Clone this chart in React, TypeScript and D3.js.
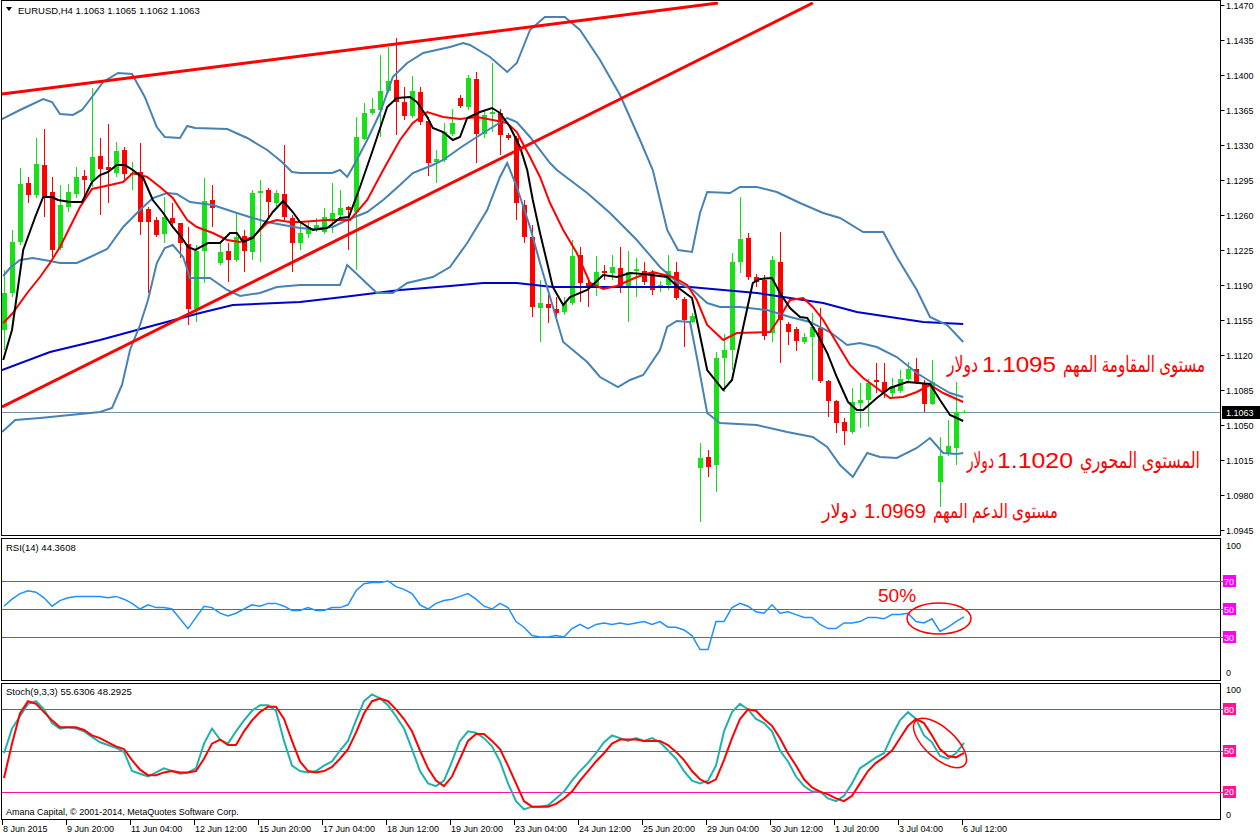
import React from 'react';
import * as d3 from 'd3';

// ---------- Price candles (H4 bars, index 0 = 8 Jun 2015 12:00, 120 = 6 Jul 12:00) ----------
const opens = [1.1145,1.1182,1.1233,1.1292,1.1280,1.1310,1.1283,1.1227,1.1268,1.1281,1.1299,1.1294,1.1319,1.1308,1.1302,1.1325,1.1300,1.1303,1.1266,1.1255,1.1241,1.1257,1.1252,1.1231,1.1166,1.1224,1.1275,1.1212,1.1224,1.1215,1.1239,1.1223,1.1282,1.1285,1.1272,1.1281,1.1257,1.1232,1.1241,1.1247,1.1243,1.1255,1.1260,1.1268,1.1263,1.1336,1.1362,1.1365,1.1384,1.1395,1.1373,1.1359,1.1383,1.1354,1.1313,1.1315,1.1341,1.1377,1.1368,1.1396,1.1341,1.1361,1.1362,1.1340,1.1337,1.1270,1.1238,1.1167,1.1171,1.1166,1.1163,1.1172,1.1220,1.1192,1.1187,1.1204,1.1202,1.1207,1.1187,1.1204,1.1204,1.1203,1.1187,1.1190,1.1203,1.1176,1.1153,1.1007,1.1018,1.1010,1.1117,1.1125,1.1213,1.1237,1.1198,1.1195,1.1142,1.1213,1.1151,1.1146,1.1133,1.1138,1.1147,1.1094,1.1074,1.1053,1.1043,1.1072,1.1075,1.1095,1.1093,1.1082,1.1084,1.1096,1.1106,1.1091,1.1071,1.0993,1.1021,1.1027,1.1063];
const highs = [1.1205,1.1245,1.1307,1.1298,1.1337,1.1346,1.1298,1.1290,1.1291,1.1308,1.1305,1.1387,1.1337,1.1351,1.1333,1.1328,1.1313,1.1332,1.1268,1.1258,1.1278,1.1272,1.1252,1.1248,1.1230,1.1297,1.1290,1.1232,1.1232,1.1262,1.1245,1.1285,1.1295,1.1287,1.1285,1.1330,1.1260,1.1253,1.1253,1.1257,1.1267,1.1292,1.1285,1.1269,1.1358,1.1372,1.1377,1.1420,1.1428,1.1437,1.1388,1.1399,1.1388,1.1358,1.1325,1.1352,1.1366,1.1380,1.1400,1.1403,1.1364,1.1412,1.1366,1.1342,1.1339,1.1275,1.1250,1.1195,1.1180,1.1178,1.1178,1.1235,1.1228,1.1194,1.1219,1.1210,1.1220,1.1228,1.1224,1.1217,1.1213,1.1205,1.1194,1.1220,1.1213,1.1178,1.1162,1.1032,1.1025,1.1123,1.1141,1.1222,1.1278,1.1242,1.1201,1.1200,1.1219,1.1243,1.1153,1.1148,1.1142,1.1162,1.1167,1.1095,1.1075,1.1057,1.1087,1.1092,1.1096,1.1112,1.1112,1.1097,1.1105,1.1113,1.1117,1.1095,1.1115,1.1038,1.1055,1.1093,1.1065];
const lows = [1.1125,1.1178,1.1230,1.1272,1.1277,1.1258,1.1218,1.1225,1.1263,1.1277,1.1275,1.1288,1.1260,1.1272,1.1298,1.1293,1.1285,1.1240,1.1182,1.1238,1.1232,1.1247,1.1217,1.1150,1.1153,1.1192,1.1248,1.1210,1.1193,1.1213,1.1203,1.1215,1.1213,1.1258,1.1267,1.1255,1.1203,1.1225,1.1237,1.1243,1.1241,1.1242,1.1257,1.1225,1.1205,1.1335,1.1360,1.1338,1.1382,1.1340,1.1355,1.1357,1.1350,1.1299,1.1292,1.1313,1.1339,1.1367,1.1365,1.1312,1.1337,1.1343,1.1320,1.1335,1.1255,1.1232,1.1158,1.1133,1.1152,1.1153,1.1160,1.1170,1.1173,1.1168,1.1179,1.1195,1.1195,1.1182,1.1153,1.1178,1.1190,1.1180,1.1183,1.1185,1.1175,1.1128,1.1152,1.0953,1.0998,1.0983,1.1083,1.1105,1.1202,1.1195,1.1188,1.1135,1.1133,1.1112,1.1130,1.1124,1.1131,1.1095,1.1092,1.1058,1.1042,1.1030,1.1041,1.1047,1.1048,1.1082,1.1077,1.1078,1.1082,1.1093,1.1091,1.1063,1.1070,1.0968,1.1019,1.1010,1.1062];
const closes = [1.1182,1.1233,1.1291,1.1280,1.1311,1.1279,1.1225,1.1270,1.1283,1.1298,1.1295,1.1318,1.1306,1.1305,1.1324,1.1301,1.1302,1.1253,1.1253,1.1240,1.1258,1.1252,1.1232,1.1166,1.1224,1.1274,1.1267,1.1223,1.1215,1.1238,1.1224,1.1282,1.1284,1.1273,1.1282,1.1258,1.1232,1.1242,1.1248,1.1250,1.1258,1.1262,1.1267,1.1265,1.1338,1.1362,1.1366,1.1384,1.1394,1.1373,1.1359,1.1384,1.1353,1.1312,1.1316,1.1343,1.1352,1.1369,1.1397,1.1341,1.1360,1.1363,1.1340,1.1337,1.1272,1.1238,1.1168,1.1172,1.1167,1.1162,1.1172,1.1219,1.1192,1.1187,1.1203,1.1202,1.1208,1.1187,1.1203,1.1206,1.1193,1.1185,1.1190,1.1204,1.1177,1.1155,1.1159,1.1017,1.1008,1.1117,1.1125,1.1213,1.1236,1.1198,1.1193,1.1139,1.1215,1.1155,1.1143,1.1134,1.1138,1.1148,1.1094,1.1074,1.1052,1.1044,1.1073,1.1075,1.1092,1.1093,1.1083,1.1089,1.1096,1.1106,1.1093,1.1071,1.1093,1.1019,1.1029,1.1063,1.1063];

// ---------- Indicator lines: [bar, price] ----------
const bbUpper = [[-0.25,1.1356],[2,1.1365],[4.9,1.1376],[6,1.1373],[7,1.1361],[8.6,1.1360],[9.75,1.1365],[11,1.1378],[12.4,1.1393],[14.25,1.1402],[16,1.1401],[17.6,1.1378],[19.1,1.1348],[20.1,1.1338],[22,1.1337],[22.9,1.1349],[23.9,1.1347],[27.9,1.1346],[30.4,1.1337],[32.9,1.1325],[34.75,1.1313],[36,1.1303],[37,1.1302],[41,1.1302],[42,1.1305],[42.9,1.1298],[43.9,1.1312],[45.4,1.1335],[47,1.1362],[48.6,1.1398],[50.4,1.1412],[52.4,1.1422],[55.75,1.1428],[57.4,1.1432],[58.25,1.1430],[60.75,1.1418],[62.9,1.1403],[64.1,1.1412],[65.75,1.1445],[67.6,1.1458],[70.1,1.1458],[72,1.1445],[74.5,1.1415],[77,1.1380],[79.5,1.1335],[81.1,1.1305],[82.9,1.1245],[84.25,1.1225],[86,1.1223],[87,1.1262],[87.9,1.1283],[90.75,1.1282],[92,1.1288],[94.1,1.1288],[96.6,1.1283],[99.5,1.1272],[102.4,1.1262],[104.5,1.1257],[107.4,1.1243],[109.9,1.1243],[111.6,1.1218],[114.1,1.1185],[115.75,1.1158],[117.9,1.1150],[119.9,1.1133]];
const bbMiddle = [[-0.1,1.1199],[0.75,1.1207],[2,1.1215],[3.6,1.1217],[5.75,1.1214],[7,1.1212],[9.1,1.1212],[10.5,1.1217],[12.9,1.1226],[14.9,1.1248],[17,1.1265],[18.6,1.1277],[20.4,1.1282],[21.6,1.1281],[23.25,1.1273],[26.1,1.1270],[29.1,1.1262],[31.1,1.1257],[32.9,1.1253],[34.9,1.1250],[37,1.1247],[38.6,1.1246],[41.1,1.1248],[42.9,1.1255],[45.4,1.1263],[47.4,1.1275],[49.5,1.1290],[51.1,1.1302],[53.6,1.1310],[54.9,1.1315],[57,1.1327],[59.1,1.1338],[61.1,1.1348],[62.9,1.1357],[64.1,1.1353],[65.75,1.1338],[68.25,1.1312],[69.1,1.1305],[72.9,1.1282],[75.75,1.1262],[79.1,1.1235],[82,1.1208],[84.1,1.1193],[86.1,1.1185],[87.9,1.1172],[89.5,1.1168],[92,1.1168],[95.4,1.1165],[98.25,1.1158],[100.75,1.1153],[103.25,1.1143],[105.4,1.1130],[107,1.1132],[109.1,1.1128],[111.6,1.1118],[114.1,1.1102],[116.1,1.1092],[118.25,1.1082],[119.9,1.1078]];
const bbLower = [[-0.25,1.1043],[1.4,1.1055],[4.5,1.1057],[8.25,1.1060],[12,1.1063],[13.5,1.1067],[14.75,1.1090],[15.75,1.1125],[17,1.1150],[18,1.1175],[19.1,1.1212],[20.1,1.1227],[21.1,1.1230],[22.4,1.1218],[23.25,1.1197],[25.75,1.1197],[27.9,1.1185],[29.5,1.1179],[32,1.1182],[34.1,1.1188],[37,1.1190],[42,1.1190],[42.9,1.1210],[44.5,1.1198],[46.6,1.1182],[48.6,1.1182],[50.4,1.1192],[53.6,1.1198],[55.75,1.1208],[57.9,1.1232],[60.4,1.1265],[62,1.1298],[62.9,1.1312],[64.1,1.1288],[65.75,1.1248],[67,1.1212],[68.25,1.1178],[69.9,1.1133],[72.9,1.1113],[74.5,1.1098],[76.75,1.1088],[78.25,1.1095],[79.9,1.1100],[82,1.1125],[82.9,1.1148],[84.1,1.1154],[85.75,1.1153],[86.6,1.1118],[87.9,1.1062],[89.5,1.1052],[94.1,1.1050],[97.9,1.1043],[101.1,1.1038],[102.9,1.1028],[104.5,1.1010],[106.1,1.0998],[107.9,1.1022],[109.5,1.1018],[111.6,1.1017],[114.1,1.1027],[115.75,1.1037],[117.4,1.1022],[119.1,1.1021],[119.9,1.1022]];
const maLong = [[-0.25,1.1105],[5.75,1.1123],[12,1.1135],[16.6,1.1145],[24.5,1.1162],[28.6,1.1170],[37,1.1173],[42.4,1.1178],[49.5,1.1185],[55.75,1.1189],[59.9,1.1192],[64.1,1.1192],[68.6,1.1188],[77,1.1188],[85.75,1.1188],[89.9,1.1185],[94.1,1.1182],[98.25,1.1177],[102.4,1.1172],[106.6,1.1163],[110.75,1.1158],[114.9,1.1153],[119.9,1.1151]];
const maFast = [[-0.1,1.1115],[1,1.1145],[2.4,1.1225],[3.9,1.1258],[4.9,1.1278],[6,1.1278],[6.75,1.1275],[8.25,1.1273],[9.75,1.1273],[11,1.1293],[12,1.1300],[13,1.1303],[14.1,1.1310],[15.1,1.1310],[16.1,1.1305],[17.4,1.1297],[18.6,1.1275],[19.9,1.1262],[21.1,1.1248],[22.25,1.1237],[23,1.1228],[23.9,1.1225],[25.5,1.1232],[27,1.1232],[28.25,1.1242],[29.1,1.1242],[29.9,1.1233],[31.1,1.1237],[32.9,1.1255],[33.6,1.1263],[34.9,1.1274],[36.1,1.1263],[37,1.1253],[38.6,1.1245],[40.4,1.1247],[42,1.1257],[43.1,1.1258],[44.5,1.1288],[46.1,1.1325],[47.9,1.1368],[49.1,1.1377],[50.75,1.1378],[51.6,1.1373],[52.9,1.1358],[53.6,1.1347],[54.9,1.1343],[56.1,1.1335],[57,1.1338],[57.9,1.1357],[59.5,1.1363],[61,1.1367],[62,1.1362],[63.25,1.1348],[64.5,1.1328],[65.4,1.1305],[66.1,1.1275],[67,1.1242],[67.9,1.1212],[68.6,1.1188],[69.9,1.1170],[70.75,1.1178],[72.9,1.1185],[74.9,1.1200],[76.6,1.1198],[78.25,1.1202],[79.9,1.1201],[82.9,1.1198],[84.5,1.1186],[86,1.1177],[86.6,1.1155],[87.9,1.1105],[89.9,1.1085],[91,1.1095],[92.4,1.1148],[93.6,1.1192],[94.5,1.1196],[96,1.1197],[97,1.1182],[98.25,1.1167],[99.5,1.1158],[100.4,1.1157],[101.6,1.1142],[102.9,1.1122],[104.1,1.1098],[105.5,1.1073],[106.6,1.1065],[107.4,1.1065],[109.1,1.1077],[110.75,1.1087],[112.9,1.1093],[115.75,1.1091],[117,1.1075],[118.25,1.1060],[119.9,1.1054]];
const maMid = [[-0.1,1.1152],[1.1,1.1162],[2.9,1.1182],[4.5,1.1198],[5.75,1.1212],[7,1.1228],[8.25,1.1248],[9.5,1.1268],[11,1.1286],[13.25,1.1290],[14.9,1.1293],[16.1,1.1302],[17.9,1.1298],[19.5,1.1288],[21.1,1.1277],[22.9,1.1255],[24.1,1.1248],[26.1,1.1242],[27.9,1.1235],[29.5,1.1233],[31.1,1.1238],[32.9,1.1252],[34.1,1.1255],[35.75,1.1253],[37,1.1253],[40.4,1.1255],[43.25,1.1255],[45.4,1.1275],[47.4,1.1305],[49.5,1.1335],[51.1,1.1352],[52.9,1.1363],[54.9,1.1358],[57,1.1356],[59.1,1.1358],[61.1,1.1355],[62.9,1.1352],[64.1,1.1343],[65.75,1.1318],[67,1.1298],[68.25,1.1272],[69.9,1.1245],[71.6,1.1222],[73.25,1.1192],[74.9,1.1186],[76.6,1.1189],[79.1,1.1198],[81.1,1.1203],[83.6,1.1198],[85.4,1.1190],[86.6,1.1175],[87.9,1.1150],[89.9,1.1135],[91.6,1.1142],[95.75,1.1143],[97,1.1158],[98.25,1.1175],[99.9,1.1177],[101.1,1.1168],[102.4,1.1155],[104.1,1.1132],[105.75,1.1110],[107.4,1.1097],[109.1,1.1087],[110.75,1.1077],[112.4,1.1078],[114.1,1.1083],[115.75,1.1090],[117.4,1.1082],[119.9,1.1073]];
const trendUpper = [[-0.25,1.1381],[89.25,1.1472]];
const trendLower = [[-0.25,1.1068],[101.1,1.1472]];

// ---------- Oscillators, one value per bar ----------
const rsiValues = [52,57,61,63,62,58,52,56,58,59,59,59,59,58,59,57,54,50,53,51,51,50,43,36,44,52,51,47,45,47,50,53,52,54,54,52,49,49,51,49,49,51,51,53,63,68,69,69,70,66,64,61,53,50,54,56,57,59,61,57,52,50,54,51,41,37,31,30,30,31,30,36,39,36,39,40,39,40,39,40,41,39,41,37,37,35,31,21,21,41,41,51,54,52,48,47,53,47,48,46,44,44,39,36,36,40,40,41,44,44,43,46,46,47,41,40,43,34,37,41,44.36];
const stochMain = [48,66,75,84,86,80,70,66,67,66,64,60,56,54,52,49,35,33,31,34,37,35,33,34,37,55,66,58,55,64,72,79,83,83,79,57,39,35,34,35,39,42,50,57,72,86,91,88,83,75,66,51,35,26,24,28,42,57,64,63,59,53,42,26,13,7,9,9,10,15,20,28,35,41,48,56,61,59,57,59,57,59,56,50,44,35,28,26,28,39,64,78,84,80,73,70,64,50,42,31,24,20,20,15,13,17,26,37,41,45,48,61,72,78,73,61,56,46,44,48,55.63];
const stochSignal = [30,55,77,86,84,78,72,67,67,67,65,61,59,56,53,51,43,36,32,32,34,35,34,34,35,44,55,58,54,54,64,72,78,82,82,73,57,42,35,34,35,38,44,51,63,77,86,88,86,80,73,64,50,37,28,24,31,44,57,62,62,57,51,39,26,13,9,9,9,11,15,20,28,35,42,48,55,58,58,58,57,57,57,54,49,43,35,29,26,29,43,59,73,80,79,73,68,59,48,39,29,23,20,18,15,13,17,26,35,41,45,50,59,68,73,70,61,51,46,45,48.29];

// ---------- Axis labels ----------
const timeTickBars = [0,8,16,24,32,40,48,56,64,72,80,88,96,104,112,120];
const timeTickLabels = ['8 Jun 2015','9 Jun 20:00','11 Jun 04:00','12 Jun 12:00','15 Jun 20:00','17 Jun 04:00','18 Jun 12:00','19 Jun 20:00','23 Jun 04:00','24 Jun 12:00','25 Jun 20:00','29 Jun 04:00','30 Jun 12:00','1 Jul 20:00','3 Jul 04:00','6 Jul 12:00'];
const priceTicks = [1.0945,1.0980,1.1015,1.1050,1.1085,1.1120,1.1155,1.1190,1.1225,1.1260,1.1295,1.1330,1.1365,1.1400,1.1435,1.1470];
const rsiLevels = [70,50,30];
const stochLevels = [80,50,20];
const lastPrice = 1.1063;

// ---------- Annotations (Arabic label, level, currency word) ----------
const noteLabels = ['مستوى المقاومة المهم', 'المستوى المحوري', 'مستوى الدعم المهم'];
const noteValues = ['1.1095', '1.1020', '1.0969'];
const noteCurrency = 'دولار';

// layout of the three annotation lines: [baseline, currency x, currency w, value x, value w, label x, label w, font size]
const noteLayout = [
  [372, 947, 31, 982, 74, 1063, 142, 22],
  [468, 967, 27, 997, 76, 1080, 120, 22],
  [518, 822, 35, 864, 62, 933, 125, 20],
];

const FONT = "'Liberation Sans', Arial, 'DejaVu Sans', sans-serif";
const BULL = '#18e018';
const BEAR = '#ff0000';

export default function App() {
  const x = d3.scaleLinear().domain([0, 120]).range([4, 964]);
  const y = d3.scaleLinear().domain([1.0945, 1.1470]).range([530, 5]);
  const yR = d3.scaleLinear().domain([0, 100]).range([679, 539]);
  const yS = d3.scaleLinear().domain([0, 100]).range([819, 682]);

  const priceLine = d3.line<number[]>().x(d => x(d[0])).y(d => y(d[1]));
  const rsiLine = d3.line<number>().x((_, i) => x(i)).y(d => yR(d));
  const stLine = d3.line<number>().x((_, i) => x(i)).y(d => yS(d));

  const PL = 1.5, PR = 1220.5;

  return (
    <svg width={1260} height={837} style={{ position: 'absolute', left: 0, top: 0, background: '#fff' }} fontFamily={FONT}>
      <defs>
        <clipPath id="mainClip"><rect x={2} y={2} width={1218} height={533} /></clipPath>
        <clipPath id="rsiClip"><rect x={2} y={539} width={1218} height={141} /></clipPath>
        <clipPath id="stClip"><rect x={2} y={684} width={1218} height={135} /></clipPath>
      </defs>
      <rect x={0} y={0} width={1260} height={837} fill="#fff" />

      {/* ---------- main panel ---------- */}
      <g clipPath="url(#mainClip)">
        <line x1={PL} x2={PR} y1={Math.round(y(lastPrice)) + 0.5} y2={Math.round(y(lastPrice)) + 0.5} stroke="#7890a0" strokeWidth={1} />
        {opens.map((o, i) => {
          const c = closes[i];
          const cx = Math.round(x(i));
          const col = c >= o ? BULL : BEAR;
          const top = Math.round(y(Math.max(o, c)));
          const bot = Math.round(y(Math.min(o, c)));
          return (
            <g key={i} shapeRendering="crispEdges">
              <line x1={cx + 0.5} x2={cx + 0.5} y1={Math.round(y(highs[i]))} y2={Math.round(y(lows[i]))} stroke={col} strokeWidth={1} />
              <rect x={cx - 2} y={top} width={5} height={Math.max(1, bot - top)} fill={col} />
            </g>
          );
        })}
        <path d={priceLine(maLong) || ''} fill="none" stroke="#0000cd" strokeWidth={2} />
        <path d={priceLine(bbUpper) || ''} fill="none" stroke="#4682b4" strokeWidth={2} />
        <path d={priceLine(bbMiddle) || ''} fill="none" stroke="#4682b4" strokeWidth={2} />
        <path d={priceLine(bbLower) || ''} fill="none" stroke="#4682b4" strokeWidth={2} />
        <path d={priceLine(maMid) || ''} fill="none" stroke="#ff0000" strokeWidth={2} />
        <path d={priceLine(maFast) || ''} fill="none" stroke="#000000" strokeWidth={2} />
        <path d={priceLine(trendUpper) || ''} fill="none" stroke="#ff0000" strokeWidth={3} />
        <path d={priceLine(trendLower) || ''} fill="none" stroke="#ff0000" strokeWidth={3} />
      </g>
      <rect x={PL} y={0.5} width={PR - PL} height={535} fill="none" stroke="#000" />
      <path d="M6,7 L12,7 L9,11 Z" fill="#000" />
      <text x={18} y={14} fontSize={9.5} fill="#000">EURUSD,H4  1.1063 1.1065 1.1062 1.1063</text>

      {/* price axis */}
      {priceTicks.map(p => (
        <g key={p}>
          <line x1={PR} x2={PR + 4} y1={Math.round(y(p)) + 0.5} y2={Math.round(y(p)) + 0.5} stroke="#000" />
          <text x={1226} y={y(p) + 3.5} fontSize={9} fill="#000">{p.toFixed(4)}</text>
        </g>
      ))}
      <rect x={1222} y={Math.round(y(lastPrice)) - 6} width={38} height={13} fill="#000" />
      <text x={1226} y={y(lastPrice) + 3.5} fontSize={9} fill="#fff">{lastPrice.toFixed(4)}</text>

      {/* annotations */}
      <g fill="#ff0000">
        {noteLayout.map((L, i) => (
          <g key={i} fontSize={L[7]}>
            <text x={L[1]} y={L[0]} textLength={L[2]} lengthAdjust="spacingAndGlyphs">{noteCurrency}</text>
            <text x={L[3]} y={L[0]} textLength={L[4]} lengthAdjust="spacingAndGlyphs">{noteValues[i]}</text>
            <text x={L[5]} y={L[0]} textLength={L[6]} lengthAdjust="spacingAndGlyphs">{noteLabels[i]}</text>
          </g>
        ))}
      </g>

      {/* ---------- RSI panel ---------- */}
      <g clipPath="url(#rsiClip)">
        {rsiLevels.map(l => (
          <line key={l} x1={PL} x2={PR} y1={Math.round(yR(l)) + 0.5} y2={Math.round(yR(l)) + 0.5} stroke="#ff00ff" strokeWidth={1} />
        ))}
        <path d={rsiLine(rsiValues) || ''} fill="none" stroke="#1e90ff" strokeWidth={1.5} />
      </g>
      <rect x={PL} y={538.5} width={PR - PL} height={142} fill="none" stroke="#000" />
      <text x={6} y={551} fontSize={9.5} fill="#000">RSI(14) 44.3608</text>
      <text x={1226} y={549} fontSize={9} fill="#000">100</text>
      <text x={1226} y={676} fontSize={9} fill="#000">0</text>
      {rsiLevels.map(l => (
        <g key={l}>
          <line x1={PR} x2={PR + 3} y1={Math.round(yR(l)) + 0.5} y2={Math.round(yR(l)) + 0.5} stroke="#ff00ff" />
          <rect x={1223} y={Math.round(yR(l)) - 6} width={13} height={12} fill="#ff00ff" />
          <text x={1224} y={yR(l) + 3.5} fontSize={9} fill="#fff">{l}</text>
        </g>
      ))}
      <text x={878} y={602} fontSize={19} fill="#ff0000">50%</text>
      <ellipse cx={939} cy={618.5} rx={32} ry={15.5} fill="none" stroke="#ff0000" strokeWidth={1.5} />

      {/* ---------- Stochastic panel ---------- */}
      <g clipPath="url(#stClip)">
        {stochLevels.map(l => (
          <line key={l} x1={PL} x2={PR} y1={Math.round(yS(l)) + 0.5} y2={Math.round(yS(l)) + 0.5} stroke="#ff1493" strokeWidth={1} />
        ))}
        <path d={stLine(stochMain) || ''} fill="none" stroke="#20b2aa" strokeWidth={2} />
        <path d={stLine(stochSignal) || ''} fill="none" stroke="#ff0000" strokeWidth={2} />
      </g>
      <rect x={PL} y={683.5} width={PR - PL} height={136} fill="none" stroke="#000" />
      <text x={6} y={695} fontSize={9.5} fill="#000">Stoch(9,3,3) 55.6306 48.2925</text>
      <text x={1226} y={693} fontSize={9} fill="#000">100</text>
      <text x={1226} y={818} fontSize={9} fill="#000">0</text>
      {stochLevels.map(l => (
        <g key={l}>
          <line x1={PR} x2={PR + 3} y1={Math.round(yS(l)) + 0.5} y2={Math.round(yS(l)) + 0.5} stroke="#ff1493" />
          <rect x={1223} y={Math.round(yS(l)) - 6} width={13} height={12} fill="#ff1493" />
          <text x={1224} y={yS(l) + 3.5} fontSize={9} fill="#fff">{l}</text>
        </g>
      ))}
      <ellipse cx={940} cy={743} rx={33} ry={15} transform="rotate(42 940 743)" fill="none" stroke="#ff0000" strokeWidth={1.5} />
      <text x={6} y={815} fontSize={9} fill="#000">Amana Capital, © 2001-2014, MetaQuotes Software Corp.</text>

      {/* ---------- time axis ---------- */}
      {timeTickBars.map((b, i) => (
        <g key={b}>
          <line x1={Math.round(x(b)) - 1.5} x2={Math.round(x(b)) - 1.5} y1={820} y2={825} stroke="#000" />
          <text x={x(b) - 1} y={832} fontSize={9} fill="#000">{timeTickLabels[i]}</text>
        </g>
      ))}
    </svg>
  );
}
